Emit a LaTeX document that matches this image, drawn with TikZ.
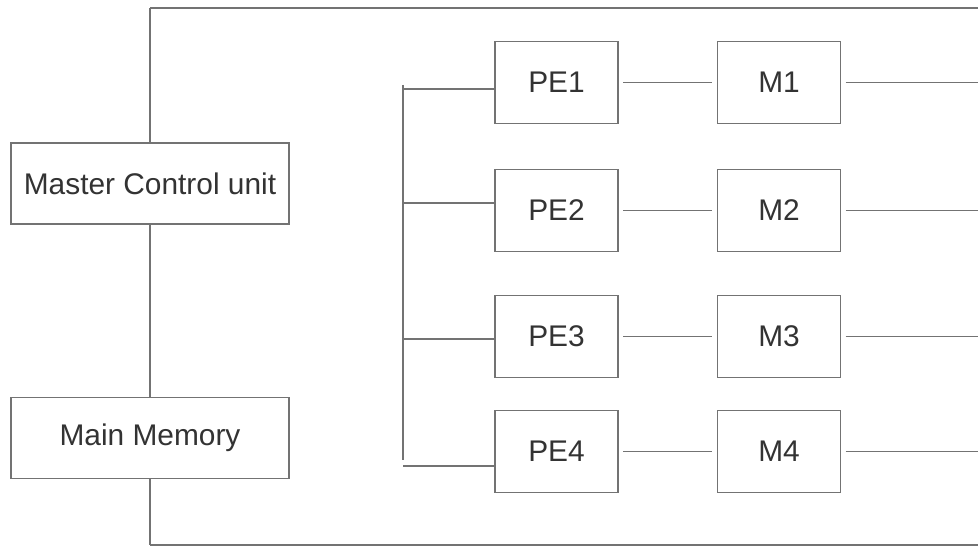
\documentclass[tikz,border=0pt]{standalone}
\usepackage{fontspec}
\setmainfont{Liberation Sans}
\usepackage{tikz}

\begin{document}
\begin{tikzpicture}[x=0.02cm,y=-0.02cm,
    unit/.style={rectangle,draw=black!55,line width=0.8pt,text=black!80,inner sep=0pt,
      minimum width=5.56cm,minimum height=1.62cm,font=\fontsize{17}{20}\selectfont},
    pebox/.style={unit,minimum width=2.46cm,minimum height=1.63cm},
    link/.style={draw=black!55,line width=0.8pt}]

    \useasboundingbox (0,0) rectangle (978,546);

    \node[unit]   (mcu) at (150, 183.5)   {Master Control unit};
    \node[unit]   (mem) at (150, 438)     {Main Memory};

    \node[pebox]  (pe1) at (556.5, 82.5)  {PE1};
    \node[pebox]  (pe2) at (556.5, 210.5) {PE2};
    \node[pebox]  (pe3) at (556.5, 336.5) {PE3};
    \node[pebox]  (pe4) at (556.5, 451.5) {PE4};

    \node[pebox]  (m1) at (779, 82.5)     {M1};
    \node[pebox]  (m2) at (779, 210.5)    {M2};
    \node[pebox]  (m3) at (779, 336.5)    {M3};
    \node[pebox]  (m4) at (779, 451.5)    {M4};

    % frame
    \coordinate (tl) at (150, 8);
    \coordinate (tr) at (978, 8);
    \coordinate (bl) at (150, 545);
    \coordinate (br) at (978, 545);

    % bus and its taps
    \coordinate (bustop) at (403, 85);
    \coordinate (busbot) at (403, 460);
    \coordinate (b1) at (403, 89);
    \coordinate (b2) at (403, 203);
    \coordinate (b3) at (403, 339);
    \coordinate (b4) at (403, 466);

    % right ends
    \coordinate (r1) at (978, 82.5);
    \coordinate (r2) at (978, 210.5);
    \coordinate (r3) at (978, 336.5);
    \coordinate (r4) at (978, 451.5);

    \draw (tl) edge[link] (tr);
    \draw (tl) edge[link] (mcu.north);
    \draw (mcu.south) edge[link] (mem.north);
    \draw (mem.south) edge[link] (bl);
    \draw (bl) edge[link] (br);

    \draw (bustop) edge[link] (busbot);
    \draw (b1) edge[link] (b1 -| pe1.west);
    \draw (b2) edge[link] (b2 -| pe2.west);
    \draw (b3) edge[link] (b3 -| pe3.west);
    \draw (b4) edge[link] (b4 -| pe4.west);

    \draw (pe1) edge[link,shorten <=2.5pt,shorten >=2.5pt] (m1);
    \draw (pe2) edge[link,shorten <=2.5pt,shorten >=2.5pt] (m2);
    \draw (pe3) edge[link,shorten <=2.5pt,shorten >=2.5pt] (m3);
    \draw (pe4) edge[link,shorten <=2.5pt,shorten >=2.5pt] (m4);

    \draw (m1) edge[link,shorten <=2.5pt] (r1);
    \draw (m2) edge[link,shorten <=2.5pt] (r2);
    \draw (m3) edge[link,shorten <=2.5pt] (r3);
    \draw (m4) edge[link,shorten <=2.5pt] (r4);
  \end{tikzpicture}
\end{document}
